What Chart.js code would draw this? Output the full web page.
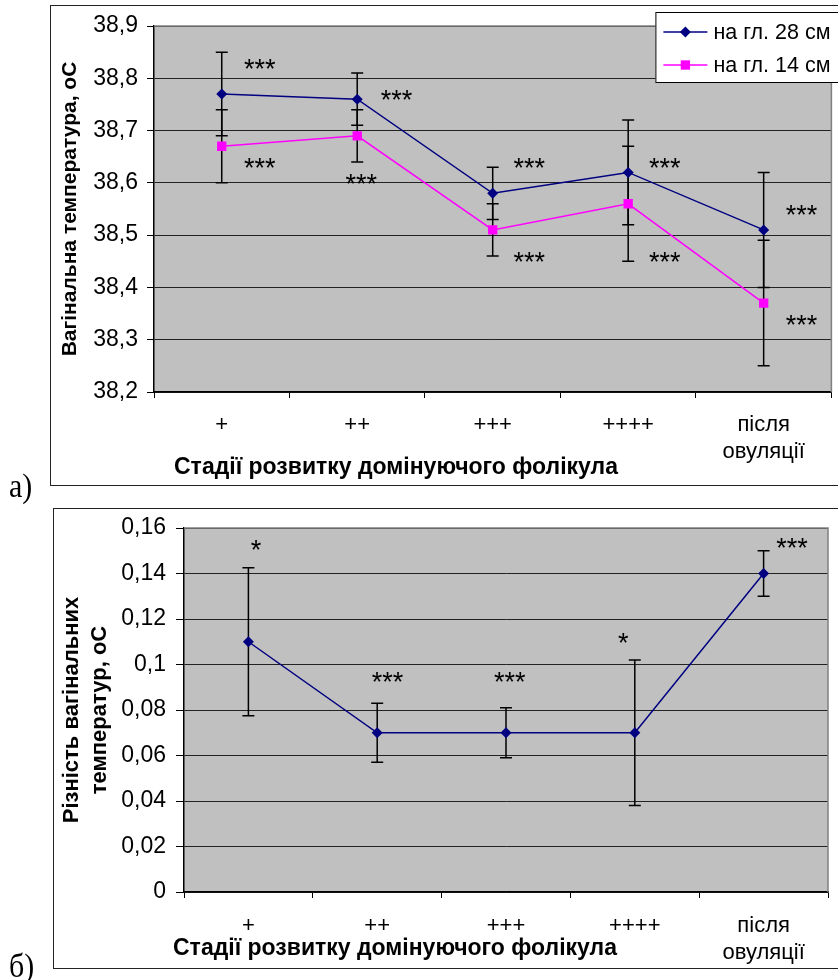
<!DOCTYPE html>
<html>
<head>
<meta charset="utf-8">
<script src="https://cdn.jsdelivr.net/npm/chart.js@4.4.0/dist/chart.umd.min.js"></script>
<style>
    body { margin: 0; background: #fff; width: 838px; height: 980px; overflow: hidden; position: relative; }
    .frame { position: absolute; border: 1.5px solid #222; box-sizing: border-box; }
    .box { position: absolute; left: 0; width: 838px; height: 490px; }
    .tag { position: absolute; left: 9px; font-family: "Liberation Serif", "Times New Roman", serif; font-size: 30px; line-height: 1; transform: scaleY(1.15); transform-origin: left top; }
</style>
</head>
<body>
<div class="frame" style="left:50px;top:5px;width:820px;height:481px"></div>
<div class="frame" style="left:53px;top:508px;width:820px;height:461px"></div>
<div class="box" style="top:0"><canvas id="chartA"></canvas></div>
<div class="box" style="top:490px"><canvas id="chartB"></canvas></div>
<div class="tag" style="top:468px">а)</div>
<div class="tag" style="top:948px">б)</div>
<script>
// Стадії розвитку домінуючого фолікула
const stages = ['+', '++', '+++', '++++', ['після', 'овуляції']];

// а) вагінальна температура на двох глибинах
const temp28 = [38.77, 38.76, 38.58, 38.62, 38.51];
const temp28Err = [0.08, 0.05, 0.05, 0.10, 0.11];
const temp14 = [38.67, 38.69, 38.51, 38.56, 38.37];
const temp14Err = [0.07, 0.05, 0.05, 0.11, 0.12];
const tempMin = 38.2, tempMax = 38.9, tempStep = 0.1;

// зірочки вірогідності (позиція по стадії та значенню)
const starStageA = [0.28, 0.28, 1.29, 1.03, 2.27, 2.27, 3.27, 3.27, 4.28, 4.28];
const starValueA = [38.83, 38.64, 38.77, 38.61, 38.64, 38.46, 38.64, 38.46, 38.55, 38.34];
const starTextA = ['***', '***', '***', '***', '***', '***', '***', '***', '***', '***'];

// б) різність вагінальних температур
const diff = [0.11, 0.07, 0.07, 0.07, 0.14];
const diffErr = [0.0325, 0.013, 0.011, 0.032, 0.01];
const diffMin = 0, diffMax = 0.16, diffStep = 0.02;

const starStageB = [0.06, 1.08, 2.03, 2.91, 4.22];
const starValueB = [0.153, 0.095, 0.095, 0.112, 0.154];
const starTextB = ['*', '***', '***', '*', '***'];

const FONT = '"Liberation Sans", Arial, sans-serif';
Chart.defaults.font.family = FONT;
Chart.defaults.color = '#000';

// Сіра область графіка + сіра рамка зверху і справа
const plotArea = {
    id: 'plotArea',
    beforeDraw(chart) {
        const { ctx, chartArea: a } = chart;
        ctx.save();
        ctx.fillStyle = '#c0c0c0';
        ctx.fillRect(a.left, a.top, a.width, a.height);
        ctx.restore();
    },
    beforeDatasetsDraw(chart) {
        const { ctx, chartArea: a } = chart;
        ctx.save();
        ctx.strokeStyle = '#808080';
        ctx.lineWidth = 1.5;
        ctx.beginPath();
        ctx.moveTo(a.left, a.top);
        ctx.lineTo(a.right, a.top);
        ctx.lineTo(a.right, a.bottom);
        ctx.stroke();
        ctx.restore();
    }
};

// Планки похибок
const errorBars = {
    id: 'errorBars',
    beforeDatasetsDraw(chart) {
        const { ctx } = chart;
        const xs = chart.scales.x, ys = chart.scales.y;
        ctx.save();
        ctx.strokeStyle = '#000';
        ctx.lineWidth = 1.5;
        chart.data.datasets.forEach(ds => {
            if (!ds.errorBars) return;
            ds.data.forEach((v, i) => {
                const px = xs.getPixelForValue(i);
                const top = ys.getPixelForValue(v + ds.errorBars[i]);
                const bot = ys.getPixelForValue(v - ds.errorBars[i]);
                ctx.beginPath();
                ctx.moveTo(px, top); ctx.lineTo(px, bot);
                ctx.moveTo(px - 6, top); ctx.lineTo(px + 6, top);
                ctx.moveTo(px - 6, bot); ctx.lineTo(px + 6, bot);
                ctx.stroke();
            });
        });
        ctx.restore();
    }
};

function starLabels(stage, value, text) {
    return {
        id: 'starLabels',
        afterDatasetsDraw(chart) {
            const { ctx } = chart;
            const size = 27;
            ctx.save();
            ctx.font = size + 'px ' + FONT;
            ctx.fillStyle = '#000';
            ctx.textAlign = 'center';
            ctx.textBaseline = 'alphabetic';
            stage.forEach((s, i) => {
                const px = chart.scales.x.getPixelForValue(s);
                const py = chart.scales.y.getPixelForValue(value[i]);
                ctx.fillText(text[i], px, py + size * 0.56); // центр зірочки над базовою лінією
            });
            ctx.restore();
        }
    };
}

function xTitle(text, dx, dy) {
    return {
        id: 'xTitle',
        afterDraw(chart) {
            const { ctx, chartArea: a } = chart;
            ctx.save();
            ctx.font = 'bold 23px ' + FONT;
            ctx.fillStyle = '#000';
            ctx.textAlign = 'center';
            ctx.textBaseline = 'middle';
            ctx.fillText(text, a.left + dx, a.bottom + dy);
            ctx.restore();
        }
    };
}

function drawMarker(ctx, style, r, x, y) {
    ctx.beginPath();
    if (style === 'rectRot') {
        ctx.moveTo(x, y - r); ctx.lineTo(x + r, y); ctx.lineTo(x, y + r); ctx.lineTo(x - r, y);
        ctx.closePath();
    } else {
        const s = r * Math.SQRT1_2;
        ctx.rect(x - s, y - s, 2 * s, 2 * s);
    }
    ctx.fill();
}

// Легенда в білій рамці
const legendBox = {
    id: 'legendBox',
    afterDraw(chart) {
        const { ctx, chartArea: a } = chart;
        const left = a.right - 176, top = a.top - 14;
        ctx.save();
        ctx.fillStyle = '#fff';
        ctx.fillRect(left, top, 220, 70);
        ctx.strokeStyle = '#000';
        ctx.lineWidth = 1;
        ctx.strokeRect(left + 0.5, top + 0.5, 220, 70);
        ctx.font = '21.5px ' + FONT;
        ctx.textBaseline = 'middle';
        chart.data.datasets.forEach((ds, i) => {
            const y = top + 20 + i * 33;
            ctx.strokeStyle = ds.borderColor;
            ctx.lineWidth = ds.borderWidth;
            ctx.beginPath();
            ctx.moveTo(left + 8, y); ctx.lineTo(left + 52, y);
            ctx.stroke();
            ctx.fillStyle = ds.pointBackgroundColor;
            drawMarker(ctx, ds.pointStyle, ds.pointRadius, left + 30, y);
            ctx.fillStyle = '#000';
            ctx.fillText(ds.label, left + 58, y + 1);
        });
        ctx.restore();
    }
};

function commaNum(v, digits) {
    return String(Number(v.toFixed(digits))).replace('.', ',');
}

const chartA = new Chart(document.getElementById('chartA'), {
    type: 'line',
    data: {
        labels: stages,
        datasets: [
            {
                label: 'на гл. 28 см',
                data: temp28,
                errorBars: temp28Err,
                borderColor: '#000080',
                borderWidth: 1.5,
                pointStyle: 'rectRot',
                pointRadius: 5.5,
                pointBackgroundColor: '#000080',
                pointBorderWidth: 0,
                tension: 0
            },
            {
                label: 'на гл. 14 см',
                data: temp14,
                errorBars: temp14Err,
                borderColor: '#ff00ff',
                borderWidth: 1.5,
                pointStyle: 'rect',
                pointRadius: 6.6,
                pointBackgroundColor: '#ff00ff',
                pointBorderWidth: 0,
                tension: 0
            }
        ]
    },
    options: {
        responsive: true,
        maintainAspectRatio: false,
        animation: false,
        layout: { padding: { top: 26, right: 1, left: 0, bottom: 0 } },
        plugins: { legend: { display: false }, tooltip: { enabled: false } },
        scales: {
            x: {
                offset: true,
                afterFit: s => { s.height = 98; },
                grid: { offset: true, drawOnChartArea: false, tickLength: 6, color: '#000' },
                border: { color: '#000', width: 1.5 },
                ticks: { font: { size: 22 }, padding: 14, maxRotation: 0 }
            },
            y: {
                min: tempMin,
                max: tempMax,
                afterFit: s => { s.width = 154; },
                grid: { color: '#222', tickLength: 7, tickColor: '#000' },
                border: { color: '#000', width: 1.5 },
                ticks: { stepSize: tempStep, font: { size: 23 }, padding: 9, callback: v => commaNum(v, 1) },
                title: {
                    display: true,
                    text: 'Вагінальна температура, оС',
                    font: { size: 21, weight: 'bold' },
                    padding: { top: 58, bottom: 0 }
                }
            }
        }
    },
    plugins: [plotArea, errorBars, starLabels(starStageA, starValueA, starTextA),
              xTitle('Стадії розвитку домінуючого фолікула', 242, 76), legendBox]
});

const chartB = new Chart(document.getElementById('chartB'), {
    type: 'line',
    data: {
        labels: stages,
        datasets: [
            {
                label: 'різність',
                data: diff,
                errorBars: diffErr,
                borderColor: '#000080',
                borderWidth: 1.5,
                pointStyle: 'rectRot',
                pointRadius: 5.5,
                pointBackgroundColor: '#000080',
                pointBorderWidth: 0,
                tension: 0
            }
        ]
    },
    options: {
        responsive: true,
        maintainAspectRatio: false,
        animation: false,
        layout: { padding: { top: 38, right: 10, left: 0, bottom: 0 } },
        plugins: { legend: { display: false }, tooltip: { enabled: false } },
        scales: {
            x: {
                offset: true,
                afterFit: s => { s.height = 88; },
                grid: { offset: true, drawOnChartArea: false, tickLength: 6, color: '#000' },
                border: { color: '#000', width: 1.5 },
                ticks: { font: { size: 22 }, padding: 15, maxRotation: 0 }
            },
            y: {
                min: diffMin,
                max: diffMax,
                afterFit: s => { s.width = 184; },
                grid: { color: '#222', tickLength: 8, tickColor: '#000' },
                border: { color: '#000', width: 1.5 },
                ticks: { stepSize: diffStep, font: { size: 23 }, padding: 10, callback: v => commaNum(v, 2) },
                title: {
                    display: true,
                    text: ['Різність вагінальних', 'температур, оС'],
                    font: { size: 22, weight: 'bold', lineHeight: 1.27 },
                    padding: { top: 58, bottom: 0 }
                }
            }
        }
    },
    plugins: [plotArea, errorBars, starLabels(starStageB, starValueB, starTextB),
              xTitle('Стадії розвитку домінуючого фолікула', 211, 57)]
});
</script>
</body>
</html>
